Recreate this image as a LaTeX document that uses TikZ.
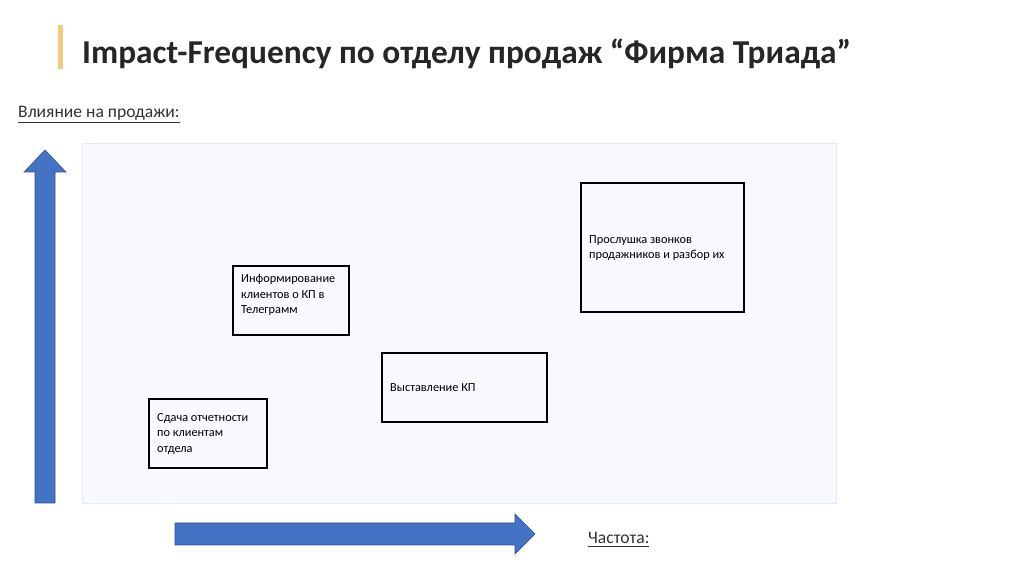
\documentclass[tikz,border=0pt]{standalone}
\usepackage{fontspec}
\setmainfont{Carlito}
\usepackage{tikz}
\usetikzlibrary{positioning}
\definecolor{axisblue}{RGB}{68,114,196}
\definecolor{axisedge}{RGB}{47,82,143}
\definecolor{barorange}{RGB}{246,200,132}
\definecolor{areafill}{RGB}{248,250,255}
\definecolor{areaedge}{RGB}{228,234,246}
\definecolor{titlegray}{RGB}{38,38,38}
\definecolor{labelgray}{RGB}{50,50,50}

\begin{document}
\begin{tikzpicture}[
            x=0.02cm, y=-0.02cm,
            task/.style={draw, line width=0.9pt},
            tasktext/.style={anchor=west, align=left, font=\fontsize{7}{9}\selectfont},
            axisarrow/.style={fill=axisblue, draw=axisedge, line width=0.3pt},
            axislabel/.style={anchor=west, font=\fontsize{10}{12}\selectfont, text=labelgray}
        ]

        % Area
        \useasboundingbox (0,0) rectangle (1024,573);
        \fill[white] (0,0) rectangle (1024,573);
        \draw[fill=areafill, draw=areaedge] (82,143) rectangle (836,503);

        % Titolo
        \fill[barorange] (58,25) rectangle (63,69);
        \node[anchor=west, font=\fontsize{19}{22}\selectfont\bfseries, text=titlegray] (title) at (76,54) {Impact-Frequency по отделу продаж “Фирма Триада”};

        % Assi
        \draw[axisarrow] (35,503) -- (35,172) -- (24,172) -- (45,150) -- (66,172) -- (55,172) -- (55,503) -- cycle;
        \draw[axisarrow] (175,523) -- (515,523) -- (515,514) -- (535,534) -- (515,554) -- (515,545) -- (175,545) -- cycle;
        \node[axislabel] (impact) at (12,115) {\underline{Влияние на продажи:}};
        \node[axislabel] (freq) at (582,540) {\underline{Частота:}};

        % Attività
        \draw[task] (581,183) rectangle (744,312);
        \node[tasktext] (calls) at (583,248) {Прослушка звонков\\продажников и разбор их};
        \draw[task] (233,266) rectangle (349,335);
        \node[tasktext] (telegram) at (235,295) {Информирование\\клиентов о КП в\\Телеграмм};
        \draw[task] (382,353) rectangle (547,422);
        \node[tasktext] (offer) at (384,388) {Выставление КП};
        \draw[task] (149,399) rectangle (267,468);
        \node[tasktext] (report) at (151,434) {Сдача отчетности\\по клиентам\\отдела};

\end{tikzpicture}
\end{document}
